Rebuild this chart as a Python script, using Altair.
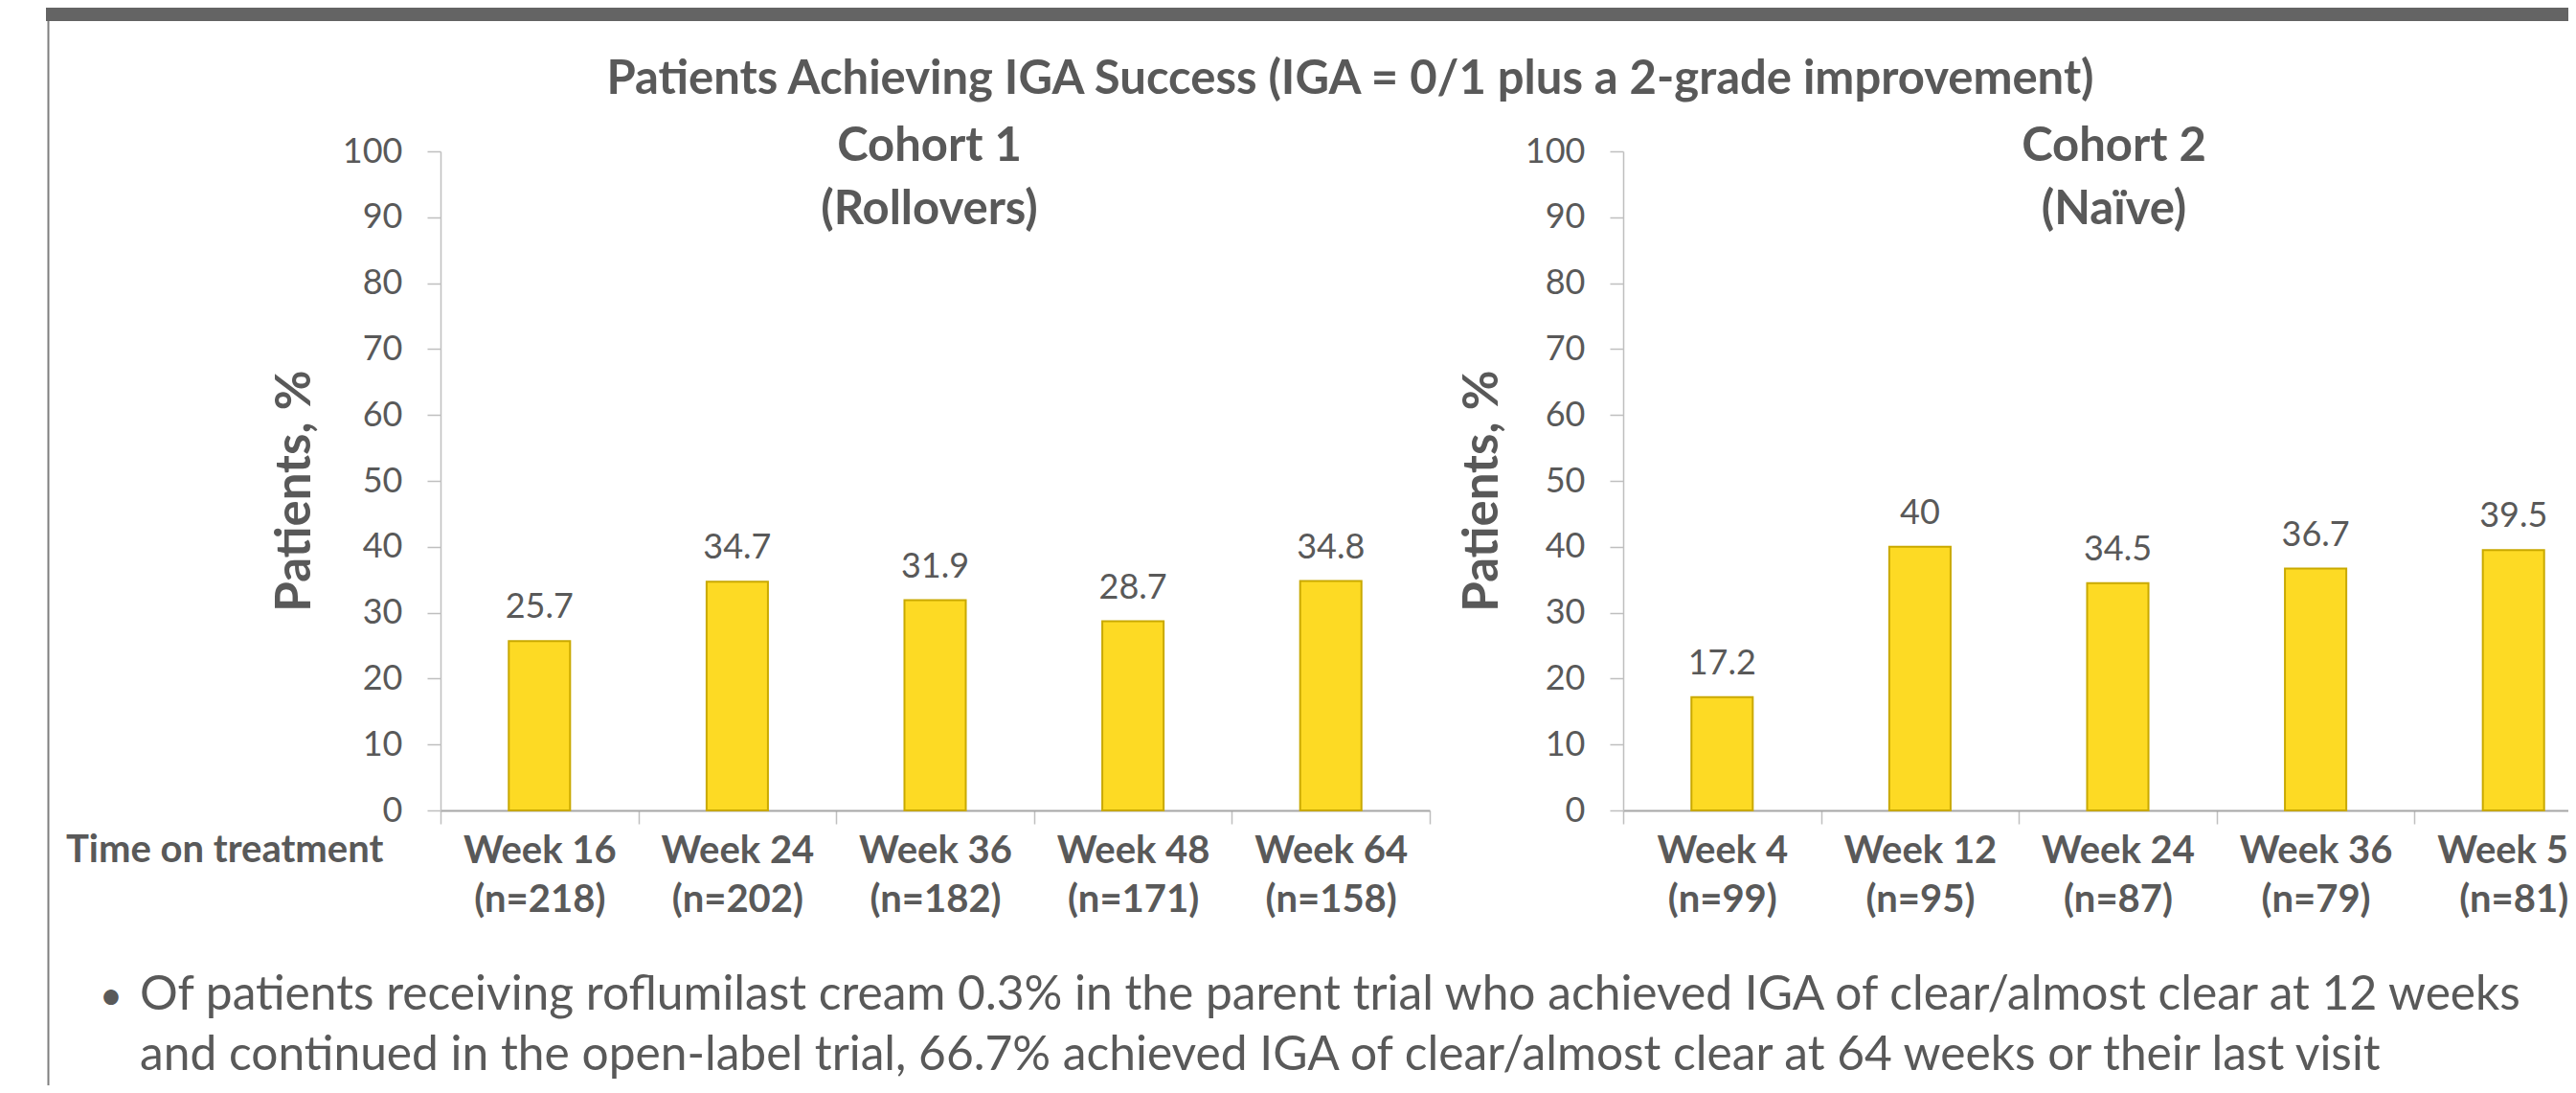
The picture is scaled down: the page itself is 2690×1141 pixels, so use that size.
import altair as alt
import pandas as pd

# ---------------- data ----------------
main_title = ["Patients Achieving IGA Success (IGA = 0/1 plus a 2-grade improvement)"]
c1_title = ["Cohort 1", "(Rollovers)"]
c2_title = ["Cohort 2", "(Naïve)"]
c1_weeks = ["Week 16", "Week 24", "Week 36", "Week 48", "Week 64"]
c1_n = ["(n=218)", "(n=202)", "(n=182)", "(n=171)", "(n=158)"]
c1_vals = [25.7, 34.7, 31.9, 28.7, 34.8]
c2_weeks = ["Week 4", "Week 12", "Week 24", "Week 36", "Week 52"]
c2_n = ["(n=99)", "(n=95)", "(n=87)", "(n=79)", "(n=81)"]
c2_vals = [17.2, 40, 34.5, 36.7, 39.5]
y_ticks = [0, 10, 20, 30, 40, 50, 60, 70, 80, 90, 100]
y_title = "Patients, %"
x_row_title = ["Time on treatment"]
bullet_lines = [
    "Of patients receiving roflumilast cream 0.3% in the parent trial who achieved IGA of clear/almost clear at 12 weeks",
    "and continued in the open-label trial, 66.7% achieved IGA of clear/almost clear at 64 weeks or their last visit",
]

# ---------------- style ----------------
FONT = "Lato"
TXT = "#595959"
BAR = "#FDDA24"
BAR_EDGE = "#C9A900"
AX = "#BFBFBF"
W, H = 1033, 688


def panel(weeks, ns, vals, title_lines, title_pad, title_dx, extras=False):
    df = pd.DataFrame({
        "cat": [f"{w}|{n}" for w, n in zip(weeks, ns)],
        "value": vals,
        "lab": [f"{v:g}" for v in vals],
    })
    base = alt.Chart(df)
    x = alt.X(
        "cat:N", sort=None,
        scale=alt.Scale(paddingInner=0, paddingOuter=0),
        axis=alt.Axis(
            title=None, labelExpr="split(datum.label, '|')", labelAngle=0,
            tickBand="extent", tickSize=14, tickColor=AX, tickWidth=1.5,
            domainColor="#A6A6A6", domainWidth=2,
            labelFont=FONT, labelFontSize=40, labelFontWeight="bold",
            labelColor=TXT, labelLineHeight=51, labelPadding=8,
            labelBaseline="top",
        ),
    )
    y = alt.Y(
        "value:Q",
        scale=alt.Scale(domain=[0, 100], nice=False),
        axis=alt.Axis(
            values=y_ticks, grid=False, title=y_title,
            titleFont=FONT, titleFontSize=51, titleFontWeight="bold",
            titleColor=TXT, titlePadding=title_pad, titleY=H / 2 + 10,
            tickSize=14, tickColor=AX, tickWidth=1.5,
            domainColor=AX, domainWidth=1.5,
            labelFont=FONT, labelFontSize=36, labelColor=TXT, labelPadding=26,
        ),
    )
    bars = base.mark_bar(
        color=BAR, stroke=BAR_EDGE, strokeWidth=2,
        width=alt.RelativeBandSize(0.31),
    ).encode(x=x, y=y)
    labels = base.mark_text(
        baseline="alphabetic", dy=-24, font=FONT, fontSize=36, color=TXT,
    ).encode(x=x, y=y, text="lab:N")
    ttl = alt.Chart(pd.DataFrame({"t": ["\n".join(title_lines)]})).mark_text(
        align="center", baseline="alphabetic", lineBreak="\n", lineHeight=66,
        font=FONT, fontSize=49, fontWeight="bold", color=TXT,
    ).encode(x=alt.value(W / 2 + title_dx), y=alt.value(10), text="t:N")
    layers = [bars, labels, ttl]
    if extras:
        band = alt.Chart(pd.DataFrame({"k": [0]})).mark_rect(color="#646464").encode(
            x=alt.value(-412), x2=alt.value(2290), y=alt.value(-150), y2=alt.value(-136))
        border = alt.Chart(pd.DataFrame({"k": [0]})).mark_rule(color="#7F7F7F", strokeWidth=2).encode(
            x=alt.value(-409.5), y=alt.value(-136), y2=alt.value(975))
        main = alt.Chart(pd.DataFrame({"t": main_title})).mark_text(
            align="center", baseline="alphabetic", font=FONT, fontSize=49,
            fontWeight="bold", color=TXT,
        ).encode(x=alt.value(950), y=alt.value(-60), text="t:N")
        row = alt.Chart(pd.DataFrame({"t": x_row_title})).mark_text(
            align="left", baseline="alphabetic", font=FONT, fontSize=40,
            fontWeight="bold", color=TXT,
        ).encode(x=alt.value(-391), y=alt.value(742), text="t:N")
        dot = alt.Chart(pd.DataFrame({"t": ["•"]})).mark_text(
            align="center", baseline="alphabetic", font=FONT, fontSize=42, color=TXT,
        ).encode(x=alt.value(-344), y=alt.value(896), text="t:N")
        bullet = alt.Chart(pd.DataFrame({"t": ["\n".join(bullet_lines)]})).mark_text(
            align="left", baseline="alphabetic", lineBreak="\n", lineHeight=63,
            font=FONT, fontSize=49.7, color=TXT,
        ).encode(x=alt.value(-314), y=alt.value(896), text="t:N")
        layers = [band, border, main, row, dot, bullet] + layers
    return alt.layer(*layers).properties(width=W, height=H)


left = panel(c1_weeks, c1_n, c1_vals, c1_title, 23, -6, extras=True)
right = panel(c2_weeks, c2_n, c2_vals, c2_title, 18, -4)

chart = alt.hconcat(
    left, right, spacing=202, bounds="flush",
    autosize=alt.AutoSizeParams(type="none"),
    padding={"left": 452, "top": 150, "right": 2222, "bottom": 975},
).configure_view(stroke=None).properties(background="white")

chart.save("out.html", embed_options={"renderer": "svg", "actions": False})
